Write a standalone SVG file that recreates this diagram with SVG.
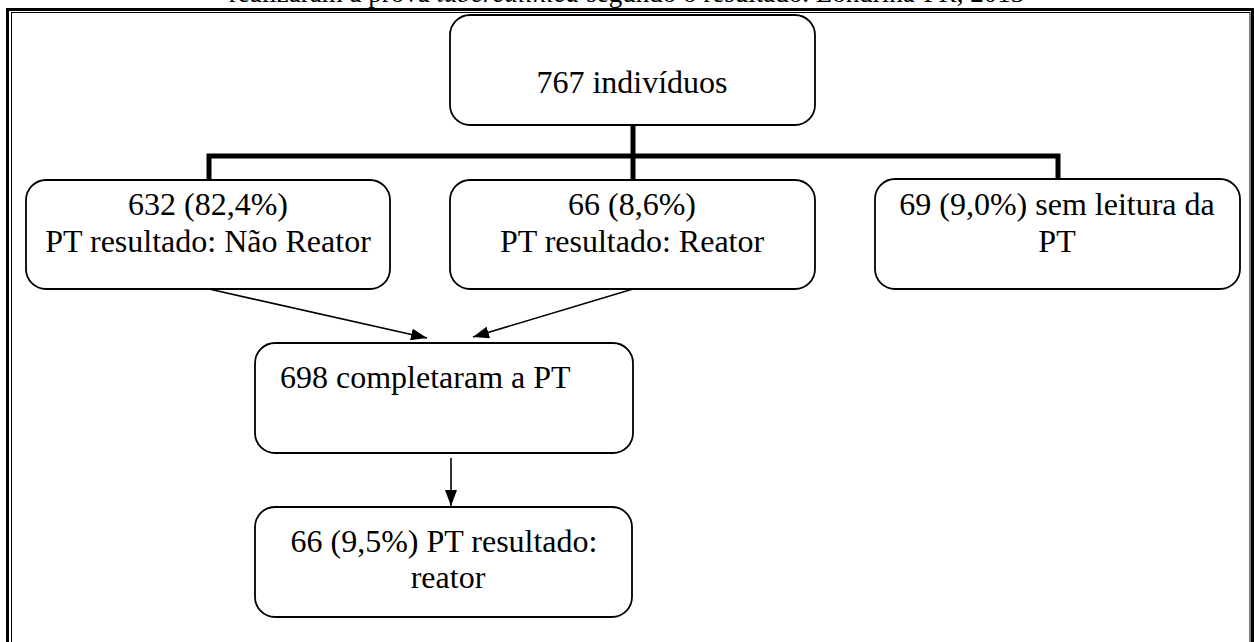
<svg xmlns="http://www.w3.org/2000/svg" width="1254" height="642" viewBox="0 0 1254 642">
  <defs>
    <marker id="arrow" markerUnits="userSpaceOnUse" markerWidth="16" markerHeight="12" refX="16" refY="6" orient="auto">
      <path d="M0,0 L16,6 L0,12 Z" fill="#000"/>
    </marker>
    <style>
      .box { fill: #fff; stroke: #000; stroke-width: 1.8; }
      .c { text-anchor: middle; }
      .trunk { fill: none; stroke: #000; stroke-width: 5; }
      .arr { fill: none; stroke: #000; stroke-width: 1.6; marker-end: url(#arrow); }
    </style>
  </defs>
  <rect width="1254" height="642" fill="#fff"/>
  <text x="626.5" y="2" text-anchor="middle" font-family="Liberation Serif, Times New Roman, serif" font-size="27">realizaram a prova <tspan font-style="italic">tuberculínica</tspan> segundo o resultado. Londrina-PR, 2013</text>
  <g id="frame">
    <rect x="7.5" y="9.5" width="1245" height="700" fill="none" stroke="#000" stroke-width="3"/>
    <rect x="11.5" y="12.5" width="1238.5" height="700" fill="none" stroke="#000" stroke-width="1"/>
  </g>
  <g id="connectors">
    <path class="trunk" d="M633,125 V180"/>
    <path class="trunk" d="M209,180 V156 H1058 V179"/>
    <path class="arr" d="M209,289 L427,338"/>
    <path class="arr" d="M633,289 L473,337"/>
    <path class="arr" d="M451,458 L451,506"/>
  </g>
  <g font-family="Liberation Serif, Times New Roman, serif" font-size="32" fill="#000">
    <g id="n-total">
      <rect class="box" x="450" y="15" width="365" height="110" rx="20"/>
      <text class="c" x="632" y="93">767 indivíduos</text>
    </g>
    <g id="n-naoreator">
      <rect class="box" x="26" y="180" width="364" height="109" rx="20"/>
      <text class="c" x="208" y="215">632 (82,4%)</text>
      <text class="c" x="208" y="252">PT resultado: Não Reator</text>
    </g>
    <g id="n-reator">
      <rect class="box" x="450" y="180" width="365" height="109" rx="20"/>
      <text class="c" x="632" y="215">66 (8,6%)</text>
      <text class="c" x="632" y="252">PT resultado: Reator</text>
    </g>
    <g id="n-semleitura">
      <rect class="box" x="875" y="179" width="365" height="110" rx="20"/>
      <text class="c" x="1057" y="215">69 (9,0%) sem leitura da</text>
      <text class="c" x="1057" y="252">PT</text>
    </g>
    <g id="n-completaram">
      <rect class="box" x="255" y="343" width="378" height="110" rx="20"/>
      <text x="280" y="388">698 completaram a PT</text>
    </g>
    <g id="n-final">
      <rect class="box" x="255" y="507" width="377" height="110" rx="20"/>
      <text class="c" x="444" y="552">66 (9,5%) PT resultado:</text>
      <text class="c" x="448" y="588">reator</text>
    </g>
  </g>
</svg>
